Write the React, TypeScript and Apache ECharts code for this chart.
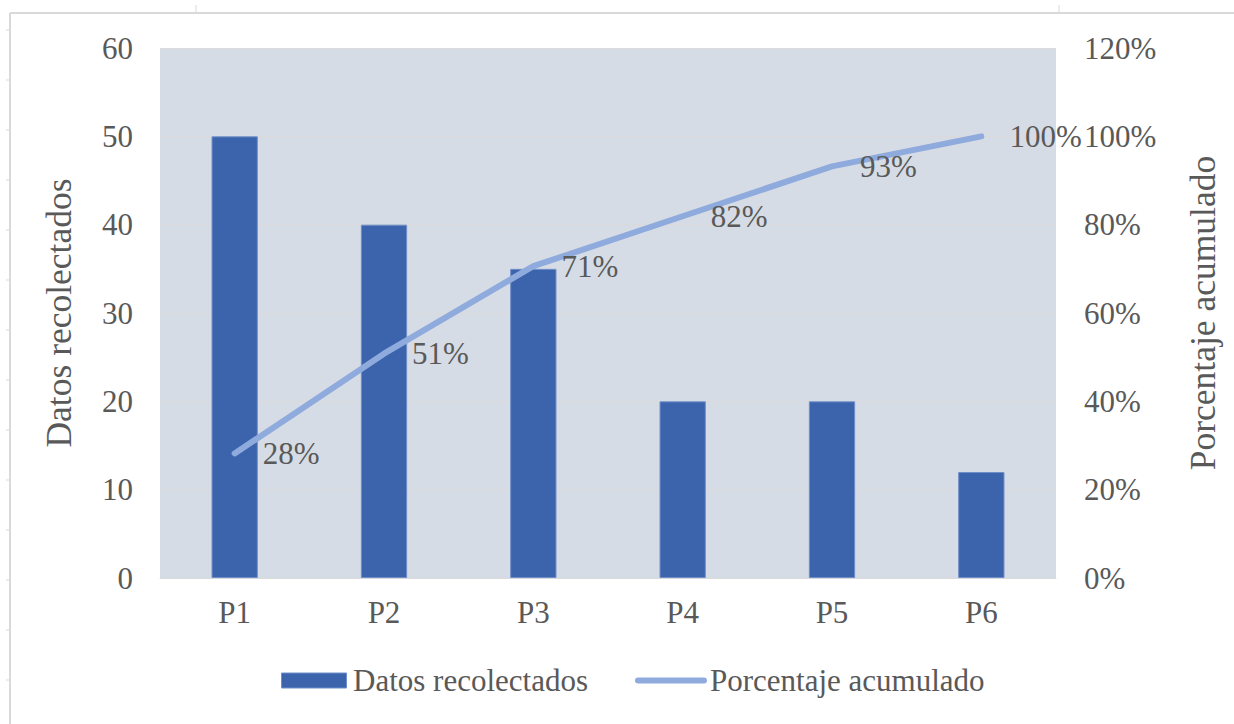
import React, { useEffect, useRef } from "react";
import * as echarts from "echarts";

const categories = ["P1", "P2", "P3", "P4", "P5", "P6"];
const datosRecolectados = [50, 40, 35, 20, 20, 12];
const porcentajeAcumulado = [28.2, 50.8, 70.6, 81.9, 93.2, 100];
const leftTicks = [0, 10, 20, 30, 40, 50, 60];
const rightTicks = [0, 20, 40, 60, 80, 100, 120];

const FONT = "Liberation Serif, serif";
const TXT = "#595959";
const FRAME = "#d9d9d9";

export default function App() {
  const ref = useRef<HTMLDivElement>(null);
  useEffect(() => {
    if (!ref.current) return;
    const chart = echarts.init(ref.current, undefined, { renderer: "svg" });
    const frame: any[] = [
      { type: "line", shape: { x1: 10, y1: 13, x2: 1234, y2: 13 }, style: { stroke: FRAME, lineWidth: 2 } },
      { type: "line", shape: { x1: 10, y1: 13, x2: 10, y2: 724 }, style: { stroke: FRAME, lineWidth: 2 } },
      { type: "line", shape: { x1: 196, y1: 5, x2: 196, y2: 13 }, style: { stroke: FRAME, lineWidth: 1 } },
      { type: "line", shape: { x1: 1059, y1: 5, x2: 1059, y2: 13 }, style: { stroke: FRAME, lineWidth: 1 } },
    ];
    for (let y = 30; y <= 700; y += 50) {
      frame.push({ type: "line", shape: { x1: 6, y1: y, x2: 10, y2: y }, style: { stroke: FRAME, lineWidth: 1 } });
    }
    chart.setOption({
      animation: false,
      textStyle: { fontFamily: FONT, color: TXT },
      graphic: frame,
      grid: { left: 160, right: 178, top: 48, bottom: 146, backgroundColor: "#d6dce5", show: true, borderWidth: 0 },
      legend: {
        left: 276,
        top: 660,
        itemWidth: 72,
        itemHeight: 15,
        itemGap: 47,
        symbolKeepAspect: true,
        textStyle: { fontFamily: FONT, fontSize: 31, color: TXT, padding: [0, 0, 0, -2] },
        data: [
          {
            name: "Datos recolectados",
            icon: "path://M0,0 L65,0 L65,15 L0,15 Z",
            itemStyle: { color: "#3b64ad", borderColor: "#6f8fca", borderWidth: 1 },
          },
          {
            name: "Porcentaje acumulado",
            icon: "path://M3,0 L69,0 A3,3 0 0 1 69,6 L3,6 A3,3 0 0 1 3,0 Z",
            itemStyle: { color: "#8faadc" },
          },
        ],
      },
      xAxis: {
        type: "category",
        data: categories,
        axisTick: { show: false },
        axisLine: { lineStyle: { color: FRAME, width: 1 } },
        axisLabel: { fontFamily: FONT, fontSize: 31, color: TXT, margin: 19 },
      },
      yAxis: [
        {
          type: "value",
          min: leftTicks[0],
          max: leftTicks[leftTicks.length - 1],
          interval: 10,
          name: "Datos recolectados",
          nameLocation: "middle",
          nameGap: 83,
          nameRotate: 90,
          nameTextStyle: { fontFamily: FONT, fontSize: 35.5, color: TXT },
          axisLine: { show: false },
          axisTick: { show: false },
          axisLabel: { fontFamily: FONT, fontSize: 31, color: TXT, margin: 27 },
          splitLine: { lineStyle: { color: "#dadada", width: 1 } },
        },
        {
          type: "value",
          min: rightTicks[0],
          max: rightTicks[rightTicks.length - 1],
          interval: 20,
          name: "Porcentaje acumulado",
          nameLocation: "middle",
          nameGap: 129,
          nameRotate: 90,
          nameTextStyle: { fontFamily: FONT, fontSize: 35.5, color: TXT },
          axisLine: { show: false },
          axisTick: { show: false },
          axisLabel: { fontFamily: FONT, fontSize: 31, color: TXT, margin: 28, formatter: "{value}%" },
          splitLine: { show: false },
        },
      ],
      series: [
        {
          name: "Datos recolectados",
          type: "bar",
          data: datosRecolectados,
          barWidth: "31%",
          itemStyle: { color: "#3b64ad", borderColor: "#6f8fca", borderWidth: 1 },
        },
        {
          name: "Porcentaje acumulado",
          type: "line",
          yAxisIndex: 1,
          data: porcentajeAcumulado,
          symbol: "circle",
          symbolSize: 0.1,
          showSymbol: true,
          lineStyle: { color: "#8faadc", width: 6, cap: "round", join: "round" },
          itemStyle: { color: "#8faadc" },
          label: {
            show: true,
            position: "right",
            distance: 28,
            fontFamily: FONT,
            fontSize: 31,
            color: TXT,
            formatter: (p: any) => Math.round(p.value) + "%",
          },
        },
      ],
    });
    return () => chart.dispose();
  }, []);
  return <div ref={ref} style={{ position: "fixed", left: 0, top: 0, width: 1234, height: 724, background: "#fff" }} />;
}
